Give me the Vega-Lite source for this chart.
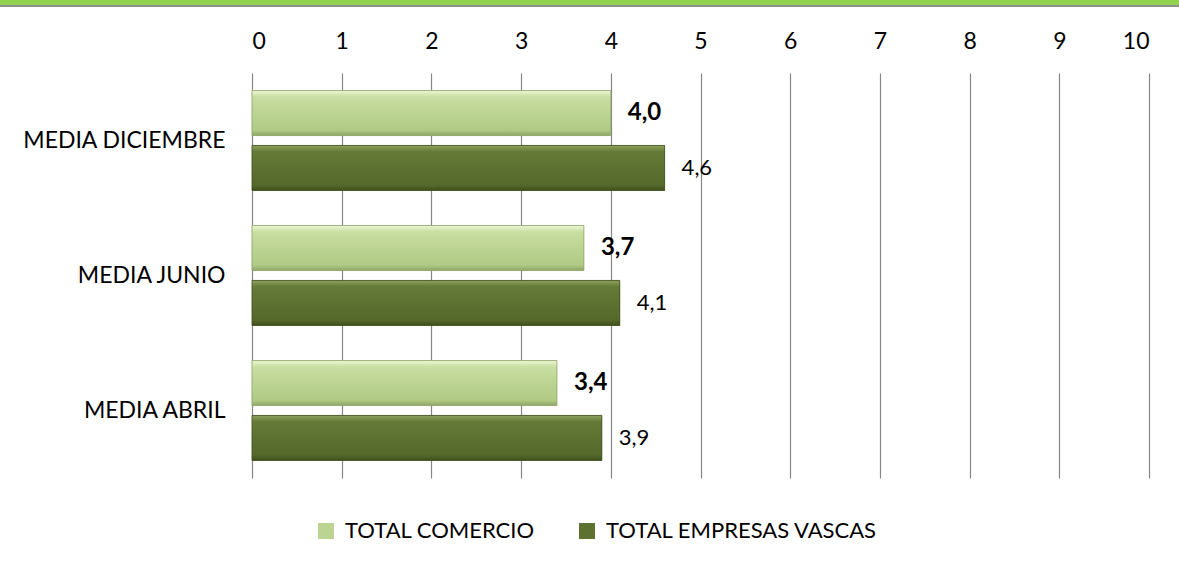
{
  "$schema": "https://vega.github.io/schema/vega-lite/v6.json",
  "padding": 0,
  "spacing": 0,
  "background": "white",
  "config": {
    "view": {"stroke": null},
    "font": "Lato",
    "text": {"font": "Lato"}
  },
  "resolve": {"legend": {"color": "independent"}},
  "vconcat": [
    {
      "width": 1179,
      "height": 5,
      "view": {"fill": "#92d050", "stroke": null},
      "data": {"values": [{"a": 1}]},
      "mark": {"type": "point", "opacity": 0, "size": 0, "strokeWidth": 0}
    },
    {
      "width": 1179,
      "height": 2,
      "view": {"fill": "#8e8e8e", "stroke": null},
      "data": {"values": [{"a": 1}]},
      "mark": {"type": "point", "opacity": 0, "size": 0, "strokeWidth": 0}
    },
    {
      "width": 1179,
      "height": 405,
      "data": {
        "values": [
          {"cat": "MEDIA DICIEMBRE", "serie": "TOTAL COMERCIO", "valor": 4.0, "label": "4,0"},
          {"cat": "MEDIA DICIEMBRE", "serie": "TOTAL EMPRESAS VASCAS", "valor": 4.6, "label": "4,6"},
          {"cat": "MEDIA JUNIO", "serie": "TOTAL COMERCIO", "valor": 3.7, "label": "3,7"},
          {"cat": "MEDIA JUNIO", "serie": "TOTAL EMPRESAS VASCAS", "valor": 4.1, "label": "4,1"},
          {"cat": "MEDIA ABRIL", "serie": "TOTAL COMERCIO", "valor": 3.4, "label": "3,4"},
          {"cat": "MEDIA ABRIL", "serie": "TOTAL EMPRESAS VASCAS", "valor": 3.9, "label": "3,9"}
        ]
      },
      "encoding": {
        "y": {
          "field": "cat",
          "type": "nominal",
          "sort": ["MEDIA DICIEMBRE", "MEDIA JUNIO", "MEDIA ABRIL"],
          "scale": {"paddingInner": 0.26, "paddingOuter": 0.13},
          "axis": {
            "title": null,
            "domain": false,
            "ticks": false,
            "grid": false,
            "offset": -252,
            "labelPadding": 27,
            "labelFontSize": 23,
            "labelColor": "#000000",
            "labelFont": "Lato",
            "labelLimit": 400
          }
        },
        "yOffset": {
          "field": "serie",
          "type": "nominal",
          "sort": ["TOTAL COMERCIO", "TOTAL EMPRESAS VASCAS"],
          "scale": {"paddingInner": 0.18, "paddingOuter": 0}
        },
        "x": {
          "field": "valor",
          "type": "quantitative",
          "scale": {"domain": [0, 10], "nice": false, "zero": true, "range": [252, 1149]},
          "axis": {
            "orient": "top",
            "title": null,
            "values": [0, 1, 2, 3, 4, 5, 6, 7, 8, 9, 10],
            "grid": true,
            "gridColor": "#878787",
            "gridWidth": 1.2,
            "gridOpacity": 1,
            "domain": false,
            "ticks": false,
            "labelPadding": 20,
            "labelFontSize": 23,
            "labelColor": "#000000",
            "labelFont": "Lato",
            "minExtent": 66,
            "maxExtent": 66
          }
        }
      },
      "layer": [
        {
          "mark": {"type": "bar"},
          "encoding": {
            "color": {
              "field": "serie",
              "type": "nominal",
              "scale": {
                "domain": ["TOTAL COMERCIO", "TOTAL EMPRESAS VASCAS"],
                "range": ["#bcd492", "#5d7131"]
              },
              "legend": {
                "title": null,
                "orient": "none",
                "direction": "horizontal",
                "legendX": 315,
                "legendY": 447,
                "symbolType": "square",
                "symbolSize": 256,
                "symbolStrokeWidth": 0,
                "symbolOpacity": 1,
                "labelFontSize": 22,
                "labelFont": "Lato",
                "labelColor": "#000000",
                "labelLimit": 500,
                "labelOffset": 8,
                "columnPadding": 41
              }
            }
          }
        },
        {
          "transform": [{"filter": "datum.serie === 'TOTAL COMERCIO'"}],
          "mark": {
            "type": "bar",
            "stroke": "#8fa567",
            "strokeWidth": 0.8,
            "color": {"gradient": "linear", "x1": 0, "y1": 0, "x2": 0, "y2": 1, "stops": [
              {"offset": 0, "color": "#eef8d6"},
              {"offset": 0.14, "color": "#c9dea3"},
              {"offset": 0.5, "color": "#bcd492"},
              {"offset": 0.88, "color": "#b1ca85"},
              {"offset": 1, "color": "#8ea566"}
            ]}
          }
        },
        {
          "transform": [{"filter": "datum.serie === 'TOTAL EMPRESAS VASCAS'"}],
          "mark": {
            "type": "bar",
            "stroke": "#3f4f1c",
            "strokeWidth": 0.8,
            "color": {"gradient": "linear", "x1": 0, "y1": 0, "x2": 0, "y2": 1, "stops": [
              {"offset": 0, "color": "#8fa25f"},
              {"offset": 0.14, "color": "#667a38"},
              {"offset": 0.5, "color": "#5d7131"},
              {"offset": 0.88, "color": "#56692c"},
              {"offset": 1, "color": "#3f4f1c"}
            ]}
          }
        },
        {
          "transform": [{"filter": "datum.serie === 'TOTAL COMERCIO'"}],
          "mark": {"type": "text", "align": "left", "baseline": "middle", "dx": 17, "fontSize": 24, "fontWeight": "bold", "font": "Lato", "color": "#000000"},
          "encoding": {"text": {"field": "label"}}
        },
        {
          "transform": [{"filter": "datum.serie === 'TOTAL EMPRESAS VASCAS'"}],
          "mark": {"type": "text", "align": "left", "baseline": "middle", "dx": 17, "fontSize": 22, "font": "Lato", "color": "#000000"},
          "encoding": {"text": {"field": "label"}}
        }
      ]
    }
  ]
}
